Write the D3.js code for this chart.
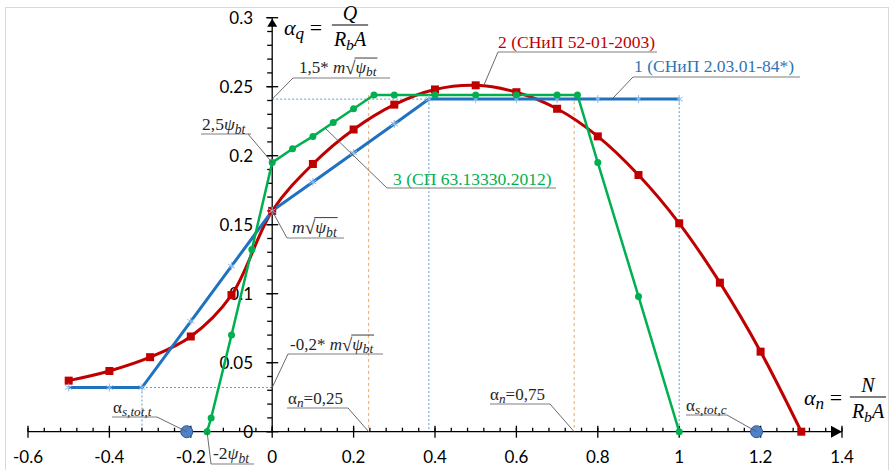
<!DOCTYPE html>
<html lang="ru">
<head>
<meta charset="UTF-8">
<title>alpha_q - alpha_n</title>
<style>
  body { margin: 0; background: #fff; }
  .tick-label { font-family: Lato, "Open Sans", sans-serif; font-size: 17px; fill: #000; }
  .note { font-family: "Liberation Serif", "Times New Roman", serif; white-space: pre; }
</style>
</head>
<body>
<svg id="chart"></svg>
<script src="https://cdn.jsdelivr.net/npm/d3@7"></script>
<script>
// ---- data ----
var xTicks = [-0.6, -0.4, -0.2, 0, 0.2, 0.4, 0.6, 0.8, 1, 1.2, 1.4];
var yTicks = [0, 0.05, 0.1, 0.15, 0.2, 0.25, 0.3];

// 1 (СНиП 2.03.01-84*)
var snip84X = [-0.5, -0.4, -0.32, -0.2, -0.1, 0, 0.1, 0.2, 0.3, 0.385, 0.5, 0.6, 0.7, 0.8, 0.9, 1];
var snip84Y = [0.032, 0.032, 0.032, 0.08, 0.12, 0.16, 0.181, 0.202, 0.223, 0.241, 0.241, 0.241, 0.241, 0.241, 0.241, 0.241];

// 2 (СНиП 52-01-2003)
var snip03X = [-0.5, -0.4, -0.3, -0.2, -0.1, 0, 0.1, 0.2, 0.3, 0.4, 0.5, 0.6, 0.7, 0.8, 0.9, 1, 1.1, 1.2, 1.3];
var snip03Y = [0.037, 0.044, 0.054, 0.069, 0.099, 0.16, 0.194, 0.219, 0.237, 0.248, 0.251, 0.246, 0.234, 0.214, 0.186, 0.151, 0.108, 0.058, 0];

// 3 (СП 63.13330.2012)
var sp12X = [-0.16, -0.15, -0.1, -0.05, 0, 0.05, 0.1, 0.15, 0.2, 0.25, 0.3, 0.4, 0.5, 0.6, 0.7, 0.75, 0.8, 0.9, 1];
var sp12Y = [0, 0.01, 0.07, 0.132, 0.195, 0.205, 0.214, 0.224, 0.234, 0.244, 0.244, 0.244, 0.244, 0.244, 0.244, 0.244, 0.195, 0.098, 0];

// alpha_s,tot,t and alpha_s,tot,c on the axis
var sTotX = [-0.21, 1.19];

// dotted guides [x1, y1, x2, y2]
var blueGuides = [[0, 0.241, 0.385, 0.241], [-0.32, 0.032, 0, 0.032], [-0.32, 0.032, -0.32, 0],
                  [0.385, 0.241, 0.385, 0], [1, 0.241, 1, 0]];
var orangeGuides = [[0.237, 0.244, 0.237, 0], [0.742, 0.244, 0.742, 0]];

var width = 892, height = 470;

var svg = d3.select("#chart").attr("width", width).attr("height", height);

svg.append("rect").attr("x", 5.5).attr("y", 7.5).attr("width", 883).attr("height", 470)
    .attr("fill", "none").attr("stroke", "#d9d9d9");

var x = d3.scaleLinear().domain([-0.6, 1.4]).range([28, 842]);
var y = d3.scaleLinear().domain([0, 0.3]).range([431.7, 17.7]);

// guides
function guides(segs, color, dash) {
    svg.append("g").selectAll("line").data(segs).enter().append("line")
        .attr("x1", d => x(d[0])).attr("y1", d => y(d[1]))
        .attr("x2", d => x(d[2])).attr("y2", d => y(d[3]))
        .attr("stroke", color).attr("stroke-width", 1).attr("stroke-dasharray", dash);
}
guides(blueGuides, "#5b9bd5", "2,2");
guides(orangeGuides, "#f4a460", "3,3");

// axes
var ax = svg.append("g").attr("stroke", "#000").attr("stroke-width", 1.3);
ax.append("line").attr("x1", x(-0.6)).attr("x2", x(1.4)).attr("y1", y(0)).attr("y2", y(0));
ax.append("line").attr("x1", x(0)).attr("x2", x(0)).attr("y1", y(0)).attr("y2", y(0.3));
ax.selectAll(".xmaj").data(xTicks).enter().append("line")
    .attr("x1", d => x(d)).attr("x2", d => x(d)).attr("y1", y(0) - 6).attr("y2", y(0) + 6);
ax.selectAll(".xmin").data(d3.range(-0.6, 1.4001, 0.04)).enter().append("line")
    .attr("x1", d => x(d)).attr("x2", d => x(d)).attr("y1", y(0) - 4).attr("y2", y(0));
ax.selectAll(".ymaj").data(yTicks).enter().append("line")
    .attr("x1", x(0) - 6).attr("x2", x(0) + 6).attr("y1", d => y(d)).attr("y2", d => y(d));
ax.selectAll(".ymin").data(d3.range(0, 0.3001, 0.01)).enter().append("line")
    .attr("x1", x(0) - 5).attr("x2", x(0)).attr("y1", d => y(d)).attr("y2", d => y(d));
// arrow heads
svg.append("path").attr("fill", "#000")
    .attr("d", "M" + x(1.4) + "," + y(0) + "l-11,-6v12z");
svg.append("path").attr("fill", "#000")
    .attr("d", "M" + x(0) + "," + (y(0.3) + 1) + "l-5,8h10z");

svg.append("g").selectAll("text").data(xTicks).enter().append("text")
    .attr("class", "tick-label").attr("x", d => x(d)).attr("y", 463)
    .attr("text-anchor", "middle").text(d => d);
svg.append("g").selectAll("text").data(yTicks).enter().append("text")
    .attr("class", "tick-label").attr("x", 253).attr("y", d => y(d)).attr("dy", "0.36em")
    .attr("text-anchor", "end").text(d => d);

// series
function pts(xs, ys) { return xs.map((v, i) => [v, ys[i]]); }
var red = pts(snip03X, snip03Y), blue = pts(snip84X, snip84Y), green = pts(sp12X, sp12Y);

var line = d3.line().x(d => x(d[0])).y(d => y(d[1]));
var smooth = d3.line().x(d => x(d[0])).y(d => y(d[1])).curve(d3.curveCatmullRom.alpha(0.5));

svg.append("path").datum(red).attr("d", smooth).attr("fill", "none")
    .attr("stroke", "#c00000").attr("stroke-width", 3);
svg.append("path").datum(blue).attr("d", line).attr("fill", "none")
    .attr("stroke", "#1f72c0").attr("stroke-width", 3);
svg.append("path").datum(green).attr("d", line).attr("fill", "none")
    .attr("stroke", "#00b050").attr("stroke-width", 2.5);

svg.append("g").selectAll("rect").data(red).enter().append("rect")
    .attr("x", d => x(d[0]) - 4).attr("y", d => y(d[1]) - 4)
    .attr("width", 8).attr("height", 8).attr("fill", "#c00000");
svg.append("g").selectAll("path").data(blue).enter().append("path")
    .attr("transform", d => "translate(" + x(d[0]) + "," + y(d[1]) + ")")
    .attr("d", d3.symbol(d3.symbolAsterisk, 45)).attr("fill", "none")
    .attr("stroke", "#8fbbe8").attr("stroke-width", 1);
svg.append("g").selectAll("circle").data(green).enter().append("circle")
    .attr("cx", d => x(d[0])).attr("cy", d => y(d[1])).attr("r", 3.5).attr("fill", "#00b050");

svg.append("g").selectAll("circle").data(sTotX).enter().append("circle")
    .attr("cx", d => x(d)).attr("cy", y(0)).attr("r", 6)
    .attr("fill", "#4f81c7").attr("stroke", "#2f5597").attr("stroke-width", 1);

// ---- rich text helper ----
function runs(g, x0, y0, parts, color, size) {
    var cx = x0;
    parts.forEach(function (p) {
        if (p.rad) {
            var r = g.append("text").attr("class", "note").attr("x", cx).attr("y", y0 + 1)
                .style("font-size", (size * 1.1) + "px").attr("fill", color).text("√");
            cx += r.node().getComputedTextLength() - 1;
            var start = cx;
            cx = runs(g, cx + 1, y0, p.rad, color, size);
            g.append("line").attr("x1", start).attr("x2", cx + 1)
                .attr("y1", y0 - size * 0.88).attr("y2", y0 - size * 0.88)
                .attr("stroke", color).attr("stroke-width", 0.9);
            return;
        }
        var fs = p.sub ? size * 0.78 : size;
        var t = g.append("text").attr("class", "note").attr("x", cx)
            .attr("y", p.sub ? y0 + size * 0.2 : y0)
            .style("font-size", fs + "px").style("font-style", p.it ? "italic" : "normal")
            .attr("fill", color).text(p.t);
        cx += t.node().getComputedTextLength();
    });
    return cx;
}

var mSqrt = [{ t: "m", it: true }, { rad: [{ t: "ψ", it: true }, { t: "bt", it: true, sub: true }] }];

// callouts: text position (px), underline span, anchor in data coords
var notes = [
    { parts: [{ t: "1,5* " }].concat(mSqrt), tx: 299, ty: 73, ux: [293, 390], uy: 78, lx: 293, ax: 0, ay: 0.241, color: "#262626", size: 17 },
    { parts: [{ t: "2,5" }, { t: "ψ", it: true }, { t: "bt", it: true, sub: true }], tx: 202, ty: 130, ux: [201, 251], uy: 134, lx: 248, ax: 0, ay: 0.195, color: "#262626", size: 17.5 },
    { parts: mSqrt, tx: 292, ty: 233, ux: [287, 344], uy: 238, lx: 287, ax: 0, ay: 0.16, color: "#262626", size: 17.5 },
    { parts: [{ t: "3 (СП 63.13330.2012)" }], tx: 393, ty: 185, ux: [387, 556], uy: 188, lx: 387, ax: 0.13, ay: 0.22, color: "#00b050", size: 17.5 },
    { parts: [{ t: "2 (СНиП 52-01-2003)" }], tx: 498, ty: 48, ux: [498, 657], uy: 52, lx: 498, ax: 0.52, ay: 0.251, color: "#c00000", size: 17.5 },
    { parts: [{ t: "1 (СНиП 2.03.01-84*)" }], tx: 634, ty: 72, ux: [633, 800], uy: 77, lx: 633, ax: 0.835, ay: 0.241, color: "#2e75b6", size: 17.5 },
    { parts: [{ t: "-0,2* " }].concat(mSqrt), tx: 290, ty: 350, ux: [288, 383], uy: 354, lx: 288, ax: 0, ay: 0.032, color: "#262626", size: 17 },
    { parts: [{ t: "α" }, { t: "n", it: true, sub: true }, { t: "=0,25" }], tx: 288, ty: 404, ux: [287, 348], uy: 408, lx: 348, ax: 0.237, ay: 0, color: "#262626", size: 17 },
    { parts: [{ t: "α" }, { t: "n", it: true, sub: true }, { t: "=0,75" }], tx: 490, ty: 400, ux: [490, 550], uy: 404, lx: 550, ax: 0.742, ay: 0, color: "#262626", size: 17 },
    { parts: [{ t: "α" }, { t: "s,tot,t", it: true, sub: true }], tx: 113, ty: 413, ux: [112, 157], uy: 417, lx: 157, ax: -0.21, ay: 0, color: "#262626", size: 17 },
    { parts: [{ t: "-2" }, { t: "ψ", it: true }, { t: "bt", it: true, sub: true }], tx: 213, ty: 459, ux: [211, 254], uy: 464, lx: 211, ax: -0.16, ay: 0, color: "#262626", size: 17.5 },
    { parts: [{ t: "α" }, { t: "s,tot,c", it: true, sub: true }], tx: 686, ty: 411, ux: [686, 727], uy: 415, lx: 727, ax: 1.19, ay: 0, color: "#262626", size: 17 }
];

var ng = svg.append("g");
notes.forEach(function (n) {
    ng.append("line").attr("x1", n.ux[0]).attr("x2", n.ux[1]).attr("y1", n.uy).attr("y2", n.uy)
        .attr("stroke", "#7f7f7f").attr("stroke-width", 1.2);
    ng.append("line").attr("x1", n.lx).attr("y1", n.uy).attr("x2", x(n.ax)).attr("y2", y(n.ay))
        .attr("stroke", "#595959").attr("stroke-width", 0.9);
    runs(ng, n.tx, n.ty, n.parts, n.color, n.size);
});

// axis titles as fractions
function frac(cx, cy, num, den, size) {
    var g = svg.append("g");
    g.append("text").attr("class", "note").attr("x", cx).attr("y", cy - 5)
        .attr("text-anchor", "middle").style("font-size", size + "px").style("font-style", "italic").text(num);
    var dg = g.append("g");
    var w = runs(dg, 0, cy + 21, den, "#000", size);
    dg.attr("transform", "translate(" + (cx - w / 2) + ",0)");
    g.append("line").attr("x1", cx - w / 2 - 2).attr("x2", cx + w / 2 + 2).attr("y1", cy).attr("y2", cy)
        .attr("stroke", "#000").attr("stroke-width", 1);
}
var rbA = [{ t: "R", it: true }, { t: "b", it: true, sub: true }, { t: "A", it: true }];

runs(svg, 284, 35, [{ t: "α", it: true }, { t: "q", it: true, sub: true }, { t: " = " }], "#000", 22);
frac(350, 25, "Q", rbA, 20);

runs(svg, 804, 405, [{ t: "α", it: true }, { t: "n", it: true, sub: true }, { t: " = " }], "#000", 22);
frac(868, 397, "N", rbA, 20);
</script>
</body>
</html>
